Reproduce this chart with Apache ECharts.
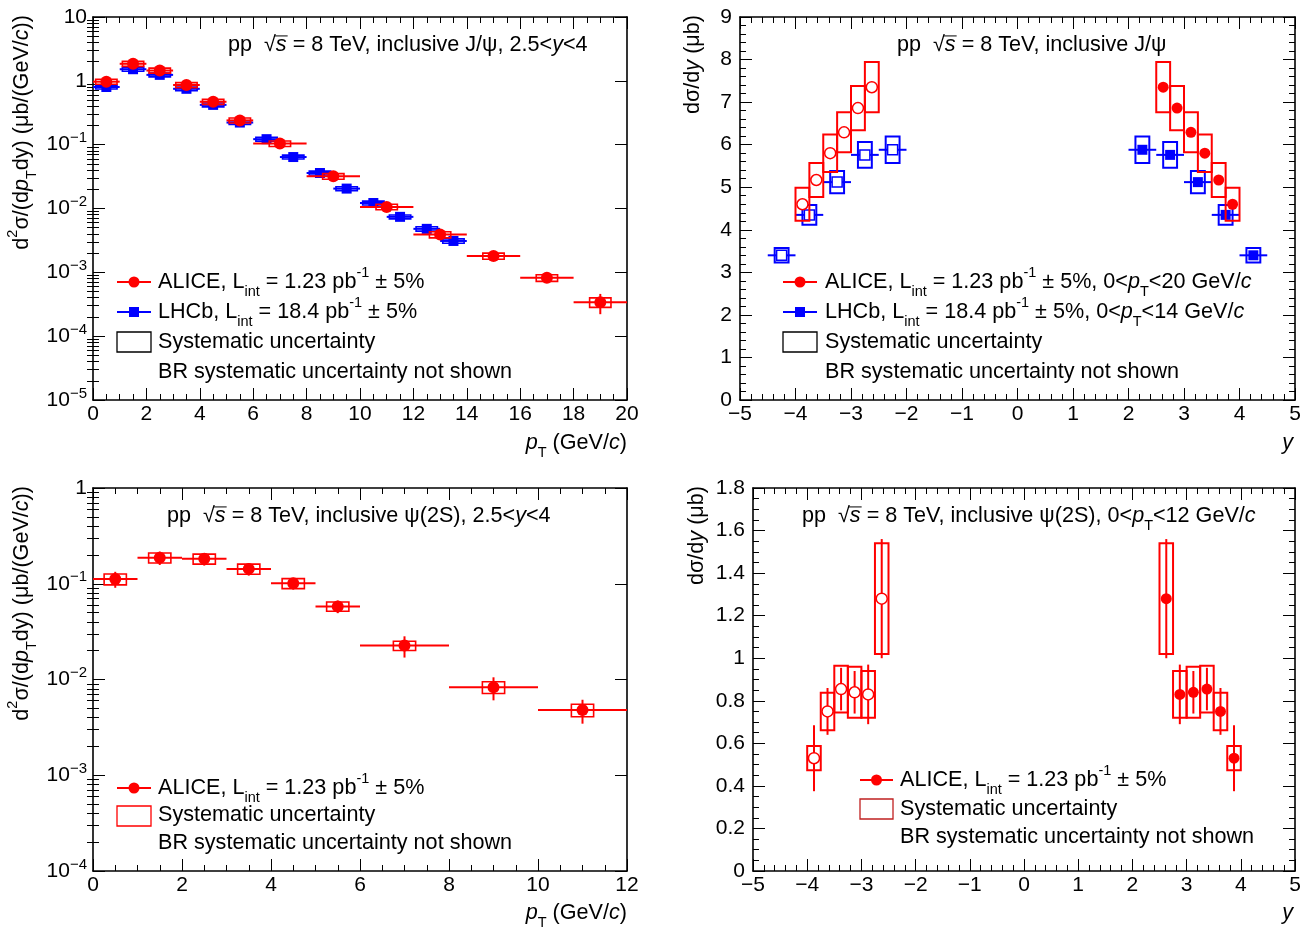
<!DOCTYPE html>
<html><head><meta charset="utf-8">
<script src="https://cdn.jsdelivr.net/npm/echarts@6.0.0/dist/echarts.min.js"></script>
<style>html,body{margin:0;padding:0;background:#fff}#c{width:1310px;height:933px}</style>
</head><body><div id="c"></div><script>
// ---------------- DATA ----------------
// Panel 1: J/psi pT-differential, 2.5<y<4
const aliceJpsiPtLo   = [0,1,2,3,4,5,6,8,10,12,14,16,18];
const aliceJpsiPtHi   = [1,2,3,4,5,6,8,10,12,14,16,18,20];
const aliceJpsiPtVal  = [0.97,1.85,1.45,0.86,0.47,0.24,0.104,0.032,0.0106,0.0039,0.0018,0.00082,0.00034];
const aliceJpsiPtStat = [0.02,0.015,0.015,0.02,0.02,0.03,0.03,0.05,0.06,0.08,0.1,0.13,0.35];
const aliceJpsiPtSys  = [0.09,0.09,0.09,0.09,0.09,0.09,0.1,0.1,0.1,0.11,0.11,0.12,0.17];
const lhcbJpsiPtLo    = [0,1,2,3,4,5,6,7,8,9,10,11,12,13];
const lhcbJpsiPtHi    = [1,2,3,4,5,6,7,8,9,10,11,12,13,14];
const lhcbJpsiPtVal   = [0.80,1.52,1.24,0.75,0.42,0.222,0.122,0.064,0.036,0.0205,0.0122,0.0074,0.0048,0.0031];
const lhcbJpsiPtStat  = [0.01,0.01,0.01,0.01,0.01,0.01,0.01,0.015,0.02,0.02,0.025,0.03,0.04,0.05];
const lhcbJpsiPtSys   = [0.07,0.07,0.07,0.07,0.07,0.07,0.07,0.07,0.07,0.07,0.07,0.07,0.08,0.08];
// Panel 2: J/psi y-differential
const aliceJpsiY      = [2.625,2.875,3.125,3.375,3.625,3.875];
const aliceJpsiYVal   = [7.35,6.86,6.29,5.80,5.17,4.60];
const aliceJpsiYStat  = [0.08,0.06,0.05,0.05,0.05,0.06];
const aliceJpsiYSys   = [0.59,0.52,0.47,0.44,0.40,0.39];
const lhcbJpsiY       = [2.25,2.75,3.25,3.75,4.25];
const lhcbJpsiYVal    = [5.88,5.76,5.12,4.35,3.40];
const lhcbJpsiYStat   = [0.03,0.03,0.03,0.03,0.04];
const lhcbJpsiYSys    = [0.31,0.30,0.26,0.23,0.17];
// Panel 3: psi(2S) pT-differential, 2.5<y<4
const alicePsi2PtLo   = [0,1,2,3,4,5,6,8,10];
const alicePsi2PtHi   = [1,2,3,4,5,6,8,10,12];
const alicePsi2PtVal  = [0.112,0.187,0.182,0.143,0.101,0.058,0.0226,0.0083,0.0048];
const alicePsi2PtStat = [0.19,0.16,0.15,0.15,0.14,0.15,0.25,0.27,0.28];
const alicePsi2PtSys  = [0.13,0.12,0.12,0.12,0.12,0.11,0.11,0.14,0.15];
// Panel 4: psi(2S) y-differential
const alicePsi2Y      = [2.625,2.875,3.125,3.375,3.625,3.875];
const alicePsi2YVal   = [1.28,0.83,0.84,0.855,0.75,0.53];
const alicePsi2YStat  = [0.28,0.14,0.10,0.10,0.11,0.155];
const alicePsi2YSys   = [0.26,0.11,0.12,0.11,0.088,0.057];

// ---------------- STYLE / HELPERS ----------------
const FONT = '"Liberation Sans", Arial, Helvetica, sans-serif';
const FS = 21.6;      // text size
const TFS = 21;       // tick label size
const SFS = 14.5;     // sub/superscript size
const RED = '#ff0000', BLUE = '#0000ff';

const grids = [
  {left:93, top:17, width:534, height:383},
  {left:740, top:17, width:555, height:383},
  {left:93, top:488, width:534, height:383},
  {left:753, top:488, width:542, height:383}
];
const xAxes = [], yAxes = [];
const tickLine = {color:'#000', width:1};
const minusFmt = v => String(v).replace('-', '\u2212');

function addX(g, min, max, interval, split) {
  const base = {gridIndex:g, type:'value', min, max, interval,
    splitLine:{show:false}, minorSplitLine:{show:false},
    axisLine:{show:true, onZero:false, lineStyle:{color:'#000', width:1.6}},
    axisTick:{show:true, inside:true, length:12, lineStyle:tickLine},
    minorTick:{show:true, splitNumber:split, length:6, lineStyle:tickLine}};
  xAxes.push(Object.assign({}, base, {position:'bottom',
    axisLabel:{show:true, margin:4, color:'#000', fontFamily:FONT, fontSize:TFS, showMinLabel:true, showMaxLabel:true, formatter:minusFmt}}));
  const i = xAxes.length - 1;
  xAxes.push(Object.assign({}, base, {position:'top', axisLabel:{show:false}}));
  return i;
}
function addYLin(g, min, max, interval, split, margin) {
  const base = {gridIndex:g, type:'value', min, max, interval,
    splitLine:{show:false}, minorSplitLine:{show:false},
    axisLine:{show:true, onZero:false, lineStyle:{color:'#000', width:1.6}},
    axisTick:{show:true, inside:true, length:12, lineStyle:tickLine},
    minorTick:{show:true, splitNumber:split, length:6, lineStyle:tickLine}};
  yAxes.push(Object.assign({}, base, {position:'left',
    axisLabel:{show:true, margin, color:'#000', fontFamily:FONT, fontSize:TFS, showMinLabel:true, showMaxLabel:true}}));
  const i = yAxes.length - 1;
  yAxes.push(Object.assign({}, base, {position:'right', axisLabel:{show:false}}));
  return i;
}
function logFmt(v) {
  const e = Math.round(Math.log10(v));
  if (e === 0) return '1';
  if (e === 1) return '10';
  return '10{s|' + (e < 0 ? '\u2212' : '') + Math.abs(e) + '}';
}
function minorLog(e0, e1) {
  const a = [];
  for (let e = e0; e < e1; e++) for (let m = 2; m <= 9; m++) a.push(+(m * Math.pow(10, e)).toPrecision(3));
  return a;
}
function addYLog(g, min, max, margin) {
  const e0 = Math.round(Math.log10(min)), e1 = Math.round(Math.log10(max));
  const base = {gridIndex:g, type:'log', logBase:10, min, max,
    splitLine:{show:false}, minorSplitLine:{show:false},
    axisLine:{show:true, onZero:false, lineStyle:{color:'#000', width:1.6}},
    axisTick:{show:true, inside:true, length:12, lineStyle:tickLine}};
  yAxes.push(Object.assign({}, base, {position:'left',
    axisLabel:{show:true, margin, color:'#000', fontFamily:FONT, fontSize:TFS, lineHeight:28,
      showMinLabel:true, showMaxLabel:true, formatter:logFmt,
      rich:{s:{fontSize:15, fontFamily:FONT, color:'#000', lineHeight:15, verticalAlign:'top'}}}}));
  const i = yAxes.length - 1;
  yAxes.push(Object.assign({}, base, {position:'right', axisLabel:{show:false}}));
  const mb = {gridIndex:g, type:'log', logBase:10, min, max, splitLine:{show:false},
    axisLine:{show:false}, axisLabel:{show:false},
    axisTick:{show:true, inside:true, length:6, lineStyle:tickLine, customValues:minorLog(e0, e1)}};
  yAxes.push(Object.assign({}, mb, {position:'left'}));
  yAxes.push(Object.assign({}, mb, {position:'right'}));
  return i;
}

function boxSeries(xi, yi, data, color, lw, z) {
  return {type:'custom', xAxisIndex:xi, yAxisIndex:yi, z, silent:true, animation:false,
    data, encode:{x:0, y:1},
    renderItem(params, api) {
      const xc = api.value(0), hw = api.value(2);
      const p0 = api.coord([xc - hw, api.value(3)]);
      const p1 = api.coord([xc + hw, api.value(4)]);
      return {type:'rect', shape:{x:Math.min(p0[0],p1[0]), y:Math.min(p0[1],p1[1]),
        width:Math.abs(p1[0]-p0[0]), height:Math.abs(p1[1]-p0[1])},
        style:{fill:'none', stroke:color, lineWidth:lw}};
    }};
}
function errSeries(xi, yi, data, color, lw, z) {
  return {type:'custom', xAxisIndex:xi, yAxisIndex:yi, z, silent:true, animation:false,
    data, encode:{x:0, y:1},
    renderItem(params, api) {
      const xc = api.value(0), yc = api.value(1);
      const ch = [];
      if (api.value(3) > api.value(2)) {
        const a = api.coord([api.value(2), yc]), b = api.coord([api.value(3), yc]);
        ch.push({type:'line', shape:{x1:a[0], y1:a[1], x2:b[0], y2:b[1]}, style:{stroke:color, lineWidth:lw}});
      }
      const c = api.coord([xc, api.value(4)]), d = api.coord([xc, api.value(5)]);
      ch.push({type:'line', shape:{x1:c[0], y1:c[1], x2:d[0], y2:d[1]}, style:{stroke:color, lineWidth:lw}});
      return {type:'group', children:ch};
    }};
}
function markSeries(xi, yi, data, symbol, size, color, open, z) {
  return {type:'scatter', xAxisIndex:xi, yAxisIndex:yi, z, silent:true, animation:false,
    data, symbol, symbolSize:size,
    itemStyle: open ? {color:'#fff', borderColor:color, borderWidth:1.5, opacity:1}
                    : {color:color, opacity:1}};
}

// text helper
const mctx = document.createElement('canvas').getContext('2d');
function tw(s, size, it) { mctx.font = (it ? 'italic ' : '') + size + 'px ' + FONT; return mctx.measureText(s).width; }
function textRun(segs, x0, y0) {
  let x = x0; const els = [];
  for (const sg of segs) {
    const size = sg.size || FS, it = !!sg.it, dy = sg.dy || 0;
    const w = tw(sg.t, size, it);
    const font = (it ? 'italic ' : '') + size + 'px ' + FONT;
    els.push({type:'text', x:x, y:y0 + dy, silent:true,
      style:{text:sg.t, fill:sg.color || '#000', font, align:'left', verticalAlign:'middle'}});
    if (sg.over) els.push({type:'line', silent:true, shape:{x1:x - 1, y1:y0 - size*0.42, x2:x + w + 1, y2:y0 - size*0.42}, style:{stroke:'#000', lineWidth:1}});
    x += w + (sg.sp || 0);
  }
  return {els, width:x - x0};
}
function runWidth(segs) { return segs.reduce((s, g) => s + tw(g.t, g.size || FS, !!g.it) + (g.sp || 0), 0); }

const SUP = (t) => ({t, size:SFS, dy:-9});
const SUB = (t) => ({t, size:SFS, dy:10});
const sqrtS = [{t:'pp  '}, {t:'\u221A'}, {t:'s', it:true, over:true}, {t:' = 8 TeV, inclusive '}];
const ptSegs = [{t:'p', it:true}, SUB('T')];

const graphics = [];
function addText(segs, x, y) { graphics.push(...textRun(segs, x, y).els); }
function addTextRight(segs, xr, y) { addText(segs, xr - runWidth(segs), y); }
function addVText(segs, cx, ytop) {
  const W = runWidth(segs);
  graphics.push({type:'group', x:cx, y:ytop + W, rotation:Math.PI/2, children:textRun(segs, 0, 0).els});
}

// ---------------- AXES ----------------
const x0 = addX(0, 0, 20, 2, 4);   const y0 = addYLog(0, 1e-5, 10, 6);
const x1 = addX(1, -5, 5, 1, 5);   const y1 = addYLin(1, 0, 9, 1, 5, 8);
const x2 = addX(2, 0, 12, 2, 4);   const y2 = addYLog(2, 1e-4, 1, 6);
const x3 = addX(3, -5, 5, 1, 5);   const y3 = addYLin(3, 0, 1.8, 0.2, 4, 8);

// ---------------- SERIES ----------------
const series = [];
function ptSet(xi, yi, lo, hi, val, stat, sys, hw, color, symbol, size, z) {
  const xc = lo.map((l, i) => (l + hi[i]) / 2);
  series.push(boxSeries(xi, yi, val.map((v, i) => [xc[i], v, hw, v*(1 - sys[i]), v*(1 + sys[i])]), color, 1.6, z));
  series.push(errSeries(xi, yi, val.map((v, i) => [xc[i], v, lo[i], hi[i], v*(1 - stat[i]), v*(1 + stat[i])]), color, 2, z + 1));
  series.push(markSeries(xi, yi, val.map((v, i) => [xc[i], v]), symbol, size, color, false, z + 2));
}
function ySet(xi, yi, ys, val, stat, sys, hw, xerr, color, symbol, size, z) {
  for (const sgn of [-1, 1]) {
    const xs = ys.map(y => sgn * y);
    series.push(boxSeries(xi, yi, val.map((v, i) => [xs[i], v, hw, v - sys[i], v + sys[i]]), color, 2, z));
    series.push(errSeries(xi, yi, val.map((v, i) => [xs[i], v, xs[i] - xerr, xs[i] + xerr, v - stat[i], v + stat[i]]), color, 2, z + 1));
    series.push(markSeries(xi, yi, val.map((v, i) => [xs[i], v]), symbol, size, color, sgn < 0, z + 2));
  }
}
ptSet(x0, y0, lhcbJpsiPtLo, lhcbJpsiPtHi, lhcbJpsiPtVal, lhcbJpsiPtStat, lhcbJpsiPtSys, 0.4, BLUE, 'rect', 10, 2);
ptSet(x0, y0, aliceJpsiPtLo, aliceJpsiPtHi, aliceJpsiPtVal, aliceJpsiPtStat, aliceJpsiPtSys, 0.4, RED, 'circle', 12, 5);
ySet(x1, y1, lhcbJpsiY, lhcbJpsiYVal, lhcbJpsiYStat, lhcbJpsiYSys, 0.125, 0.25, BLUE, 'rect', 10, 2);
ySet(x1, y1, aliceJpsiY, aliceJpsiYVal, aliceJpsiYStat, aliceJpsiYSys, 0.125, 0, RED, 'circle', 11, 5);
ptSet(x2, y2, alicePsi2PtLo, alicePsi2PtHi, alicePsi2PtVal, alicePsi2PtStat, alicePsi2PtSys, 0.25, RED, 'circle', 12, 5);
ySet(x3, y3, alicePsi2Y, alicePsi2YVal, alicePsi2YStat, alicePsi2YSys, 0.125, 0, RED, 'circle', 11, 5);

// ---------------- TEXT ----------------
addText([...sqrtS, {t:'J/\u03C8, 2.5<'}, {t:'y', it:true}, {t:'<4'}], 228, 45);
addText([...sqrtS, {t:'J/\u03C8'}], 897, 45);
addText([...sqrtS, {t:'\u03C8(2S), 2.5<'}, {t:'y', it:true}, {t:'<4'}], 167, 516);
addText([...sqrtS, {t:'\u03C8(2S), 0<'}, ...ptSegs, {t:'<12 GeV/'}, {t:'c', it:true}], 802, 516);

const xTitlePt = [...ptSegs, {t:' (GeV/'}, {t:'c', it:true}, {t:')'}];
addTextRight(xTitlePt, 627, 443);
addTextRight(xTitlePt, 627, 913);
addTextRight([{t:'y', it:true}], 1293, 443);
addTextRight([{t:'y', it:true}], 1293, 913);

const yTitlePt = [{t:'d'}, SUP('2'), {t:'\u03C3/(d'}, ...ptSegs, {t:'dy) (\u03BCb/(GeV/'}, {t:'c', it:true}, {t:'))'}];
const yTitleY = [{t:'d\u03C3/d'}, {t:'y', it:true}, {t:' (\u03BCb)'}];
addVText(yTitlePt, 22, 15);
addVText(yTitlePt, 22, 486);
addVText(yTitleY, 693, 15);
addVText(yTitleY, 697, 486);

const aliceLeg = [{t:'ALICE, L'}, SUB('int'), {t:' = 1.23 pb'}, SUP('-1'), {t:' \u00B1 5%'}];
const lhcbLeg = [{t:'LHCb, L'}, SUB('int'), {t:' = 18.4 pb'}, SUP('-1'), {t:' \u00B1 5%'}];
const sysLeg = [{t:'Systematic uncertainty'}];
const brLeg = [{t:'BR systematic uncertainty not shown'}];

function legMarker(x1, x2, y, color, symbol) {
  graphics.push({type:'line', silent:true, shape:{x1, y1:y, x2, y2:y}, style:{stroke:color, lineWidth:2}});
  const cx = (x1 + x2) / 2;
  if (symbol === 'circle') graphics.push({type:'circle', silent:true, shape:{cx, cy:y, r:5.5}, style:{fill:color}});
  else graphics.push({type:'rect', silent:true, shape:{x:cx - 5, y:y - 5, width:10, height:10}, style:{fill:color}});
}
function legBox(x1, x2, y1, y2, color) {
  graphics.push({type:'rect', silent:true, shape:{x:x1, y:y1, width:x2 - x1, height:y2 - y1}, style:{fill:'none', stroke:color, lineWidth:1.3}});
}
// top-left legend
legMarker(117, 151, 282, RED, 'circle'); addText(aliceLeg, 158, 282);
legMarker(117, 151, 312, BLUE, 'rect');  addText(lhcbLeg, 158, 312);
legBox(117, 151, 332, 352, '#000');      addText(sysLeg, 158, 342);
addText(brLeg, 158, 372);
// top-right legend
legMarker(783, 817, 282, RED, 'circle'); addText([...aliceLeg, {t:', 0<'}, ...ptSegs, {t:'<20 GeV/'}, {t:'c', it:true}], 825, 282);
legMarker(783, 817, 312, BLUE, 'rect');  addText([...lhcbLeg, {t:', 0<'}, ...ptSegs, {t:'<14 GeV/'}, {t:'c', it:true}], 825, 312);
legBox(783, 817, 332, 352, '#000');      addText(sysLeg, 825, 342);
addText(brLeg, 825, 372);
// bottom-left legend
legMarker(117, 151, 788, RED, 'circle'); addText(aliceLeg, 158, 788);
legBox(117, 151, 806, 826, RED);         addText(sysLeg, 158, 815);
addText(brLeg, 158, 843);
// bottom-right legend
legMarker(860, 893, 780, RED, 'circle'); addText(aliceLeg, 900, 780);
legBox(860, 893, 799, 819, '#c02020');   addText(sysLeg, 900, 809);
addText(brLeg, 900, 837);

const chart = echarts.init(document.getElementById('c'), null, {renderer:'canvas'});
chart.setOption({
  animation:false,
  backgroundColor:'#fff',
  grid:grids,
  xAxis:xAxes,
  yAxis:yAxes,
  series,
  graphic:{elements:graphics}
});
</script></body></html>
